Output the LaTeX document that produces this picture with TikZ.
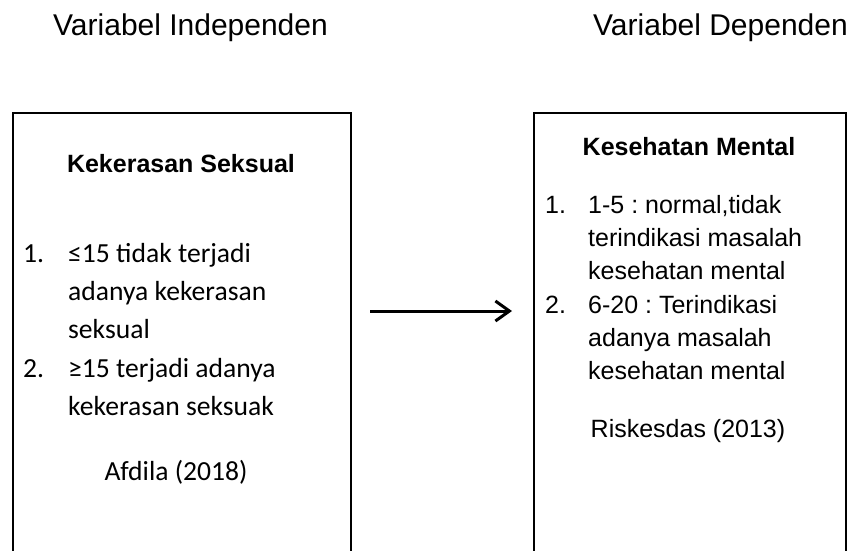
\documentclass[tikz,border=0pt]{standalone}
\usepackage{fontspec}
\setmainfont{Liberation Sans}
\newfontfamily\calibri{Carlito}
\usetikzlibrary{arrows.meta,calc}
\frenchspacing

\tikzset{
    kotak/.style={draw=black, line width=2pt, anchor=north west, inner sep=0pt},
    judul/.style={font=\fontsize{30}{35}\selectfont, anchor=base west, inner sep=0pt},
    tebal/.style={font=\bfseries\fontsize{25}{30}\selectfont, anchor=base, inner sep=0pt},
    arial/.style={font=\fontsize{25}{30}\selectfont, anchor=base west, inner sep=0pt},
    calib/.style={font=\calibri\fontsize{27.6}{32}\selectfont, anchor=base west, inner sep=0pt},
    panah/.style={line width=3pt, -{Straight Barb[length=14pt,width=20pt,line width=3pt]}}
}

\begin{document}
\begin{tikzpicture}[x={(1pt,0pt)}, y={(0pt,-1pt)}]
    \useasboundingbox (0,0) rectangle (855,550);
    \clip (0,0) rectangle (855,550);

    % Judul kolom.
    \node[judul] (indep) at (53,35) {Variabel Independen};
    \node[judul] (dep) at (593,35) {Variabel Dependen};

    % Kotak variabel (bagian bawah terpotong).
    \node[kotak, minimum width=338pt, minimum height=460pt] (kiri) at (12,112) {};
    \node[kotak, minimum width=312pt, minimum height=460pt] (kanan) at (533,112) {};

    % Isi kotak kiri.
    \node[tebal] (ks) at (181,172) {Kekerasan Seksual};
    \node[calib] (n1) at (23,262) {1.};
    \node[calib] (n2) at (23,377) {2.};
    \foreach \t [count=\i] in {{≤15 tidak terjadi},{adanya kekerasan},{seksual}} {
        \node[calib] (a\i) at (68,{262+(\i-1)*38}) {\t};
    }
    \foreach \t [count=\i] in {{≥15 terjadi adanya},{kekerasan seksuak}} {
        \node[calib] (b\i) at (68,{377+(\i-1)*38}) {\t};
    }
    \node[calib, anchor=base] (afd) at (176,480) {Afdila (2018)};

    % Isi kotak kanan.
    \node[tebal] (km) at (689,155) {Kesehatan Mental};
    \node[arial] (m1) at (545,213) {1.};
    \node[arial] (m2) at (545,313) {2.};
    \foreach \t [count=\i] in {{1-5 : normal,tidak},{terindikasi masalah},{kesehatan mental}} {
        \node[arial] (c\i) at (588,{213+(\i-1)*33.4}) {\t};
    }
    \foreach \t [count=\i] in {{6-20 : Terindikasi},{adanya masalah},{kesehatan mental}} {
        \node[arial] (d\i) at (588,{313+(\i-1)*33.4}) {\t};
    }
    \node[arial, anchor=base] (ris) at (688,437) {Riskesdas (2013)};

    % Panah hubungan.
    \draw[panah] ($(kiri.north east)+(18,199)$) -- ($(kanan.north west)+(-21,199)$);
\end{tikzpicture}
\end{document}
